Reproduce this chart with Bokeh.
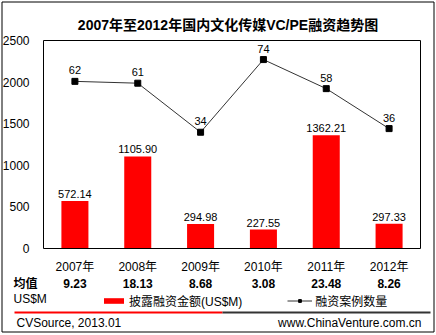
from bokeh.plotting import figure
from bokeh.models import (ColumnDataSource, Range1d, LabelSet, Label, Legend, LegendItem, BoxAnnotation)
from bokeh.core.properties import value
from bokeh.embed import file_html
from bokeh.resources import INLINE

# ---- data ----
years = ["2007年", "2008年", "2009年", "2010年", "2011年", "2012年"]
amount = [572.14, 1105.90, 294.98, 227.55, 1362.21, 297.33]
cases = [62, 61, 34, 74, 58, 36]
avg = [9.23, 18.13, 8.68, 3.08, 23.48, 8.26]
y_ticks = [0, 500, 1000, 1500, 2000, 2500]

title_text = "2007年至2012年国内文化传媒VC/PE融资趋势图"
bar_name = "披露融资金额(US$M)"
line_name = "融资案例数量"
avg_name = "均值"
unit_name = "US$M"
source_text = "CVSource, 2013.01"
site_text = "www.ChinaVenture.com.cn"

FONT = "'Liberation Sans', 'Noto Sans CJK SC', sans-serif"

# ---- layout (canvas pixels, from top-left) ----
W, H = 435, 333
FL, FR, FT, FB = 43, 420, 40, 248      # plot box edges
Y_MIN, Y_MAX = 0, 2500                  # left value axis
C_MIN, C_MAX = -30, 84.5                # hidden count axis

n = len(years)
cat_px = (FR - FL) / n
v_px = (FB - FT) / (Y_MAX - Y_MIN)
c_px = (FB - FT) / (C_MAX - C_MIN)

x_rng = Range1d(-FL / cat_px, (W - FL) / cat_px)
y_rng = Range1d(Y_MIN - (H - FB) / v_px, Y_MAX + FT / v_px)
c_rng = Range1d(C_MIN - (H - FB) / c_px, C_MAX + FT / c_px)

xpos = [i + 0.5 for i in range(n)]

src = ColumnDataSource(dict(
    x=xpos, year=years, amount=amount, cases=cases, avg=avg,
    amount_lbl=["%.2f" % v for v in amount],
    cases_lbl=[str(v) for v in cases],
    avg_lbl=["%.2f" % v for v in avg],
    base=[Y_MIN] * n,
))
tick_src = ColumnDataSource(dict(y=y_ticks, x=[0] * len(y_ticks), lbl=[str(t) for t in y_ticks]))

p = figure(width=W, height=H, x_range=x_rng, y_range=y_rng,
           output_backend="svg", toolbar_location=None,
           x_axis_location=None, y_axis_location=None,
           min_border=0, min_border_left=0, min_border_right=0,
           min_border_top=0, min_border_bottom=0)
p.extra_y_ranges = {"cnt": c_rng}
p.background_fill_color = "white"
p.border_fill_color = "white"
p.outline_line_color = None
p.xgrid.visible = False
p.ygrid.visible = False

bars = p.vbar(x="x", top="amount", bottom="base", width=0.43, source=src,
              fill_color="#FF0000", line_color=None)
ln = p.line(x="x", y="cases", source=src, y_range_name="cnt", line_color="#333333", line_width=1)
mk = p.scatter(x="x", y="cases", source=src, y_range_name="cnt", marker="square", size=6,
               fill_color="black", line_color="black")

# plot box
p.add_layout(BoxAnnotation(left=0, right=n, bottom=Y_MIN, top=Y_MAX, fill_alpha=0,
                           line_color="black", line_width=1, line_alpha=1))

# axis tick labels
p.add_layout(LabelSet(x="x", y="y", text="lbl", source=tick_src, x_offset=-14,
                      text_align="right", text_baseline="middle", text_font=value(FONT),
                      text_font_size="12px", text_color="black"))
p.add_layout(LabelSet(x="x", y="base", text="year", source=src, y_offset=-11,
                      text_align="center", text_baseline="top", text_font=value(FONT),
                      text_font_size="12px", text_color="black"))

# data labels
p.add_layout(LabelSet(x="x", y="amount", text="amount_lbl", source=src, text_align="center",
                      text_baseline="bottom", y_offset=3, text_font=value(FONT),
                      text_font_size="11px", text_color="black"))
p.add_layout(LabelSet(x="x", y="cases", text="cases_lbl", source=src, y_range_name="cnt",
                      text_align="center", text_baseline="bottom", y_offset=7, text_font=value(FONT),
                      text_font_size="11px", text_color="black"))

# mean row
p.add_layout(LabelSet(x="x", y="base", y_offset=-(283 - FB), text="avg_lbl", source=src,
                      text_align="center", text_baseline="middle", text_font=value(FONT),
                      text_font_size="12px", text_font_style="bold", text_color="black"))


def sy(Y):
    return H - Y


def label(X, Y, text, align="left", size="12px", style="normal"):
    p.add_layout(Label(x=X, y=sy(Y), x_units="screen", y_units="screen", text=text,
                       text_align=align, text_baseline="middle", text_font=FONT,
                       text_font_size=size, text_font_style=style, text_color="black"))


label(227.5, 24.5, title_text, align="center", size="14px", style="bold")
label(13, 283, avg_name, style="bold")
label(13, 298, unit_name)
label(16, 322, source_text)
label(421, 322, site_text, align="right")

# legend
legend = Legend(items=[LegendItem(label=bar_name, renderers=[bars]),
                       LegendItem(label=line_name, renderers=[ln, mk])],
                orientation="horizontal", location=(101, sy(309)),
                margin=0, padding=0, spacing=45, label_standoff=3,
                glyph_width=25, glyph_height=7, label_height=12,
                border_line_color=None, background_fill_alpha=0,
                label_text_font=FONT, label_text_font_size="12px", label_text_color="black")
p.add_layout(legend, "center")


def box(l, r, t, b, fill=None, line=None):
    p.add_layout(BoxAnnotation(left=l, right=r, top=sy(t), bottom=sy(b),
                               left_units="screen", right_units="screen", top_units="screen",
                               bottom_units="screen", fill_color=fill, fill_alpha=1 if fill else 0,
                               line_color=line, line_width=1, line_alpha=1, level="overlay"))


box(14, 222, 311, 313, fill="#FF0000")
box(222, 430, 311, 313, fill="#333333")
box(1.5, 433.5, 1.5, 331.5, line="black")

open("out.html", "w").write(file_html(p, INLINE))
